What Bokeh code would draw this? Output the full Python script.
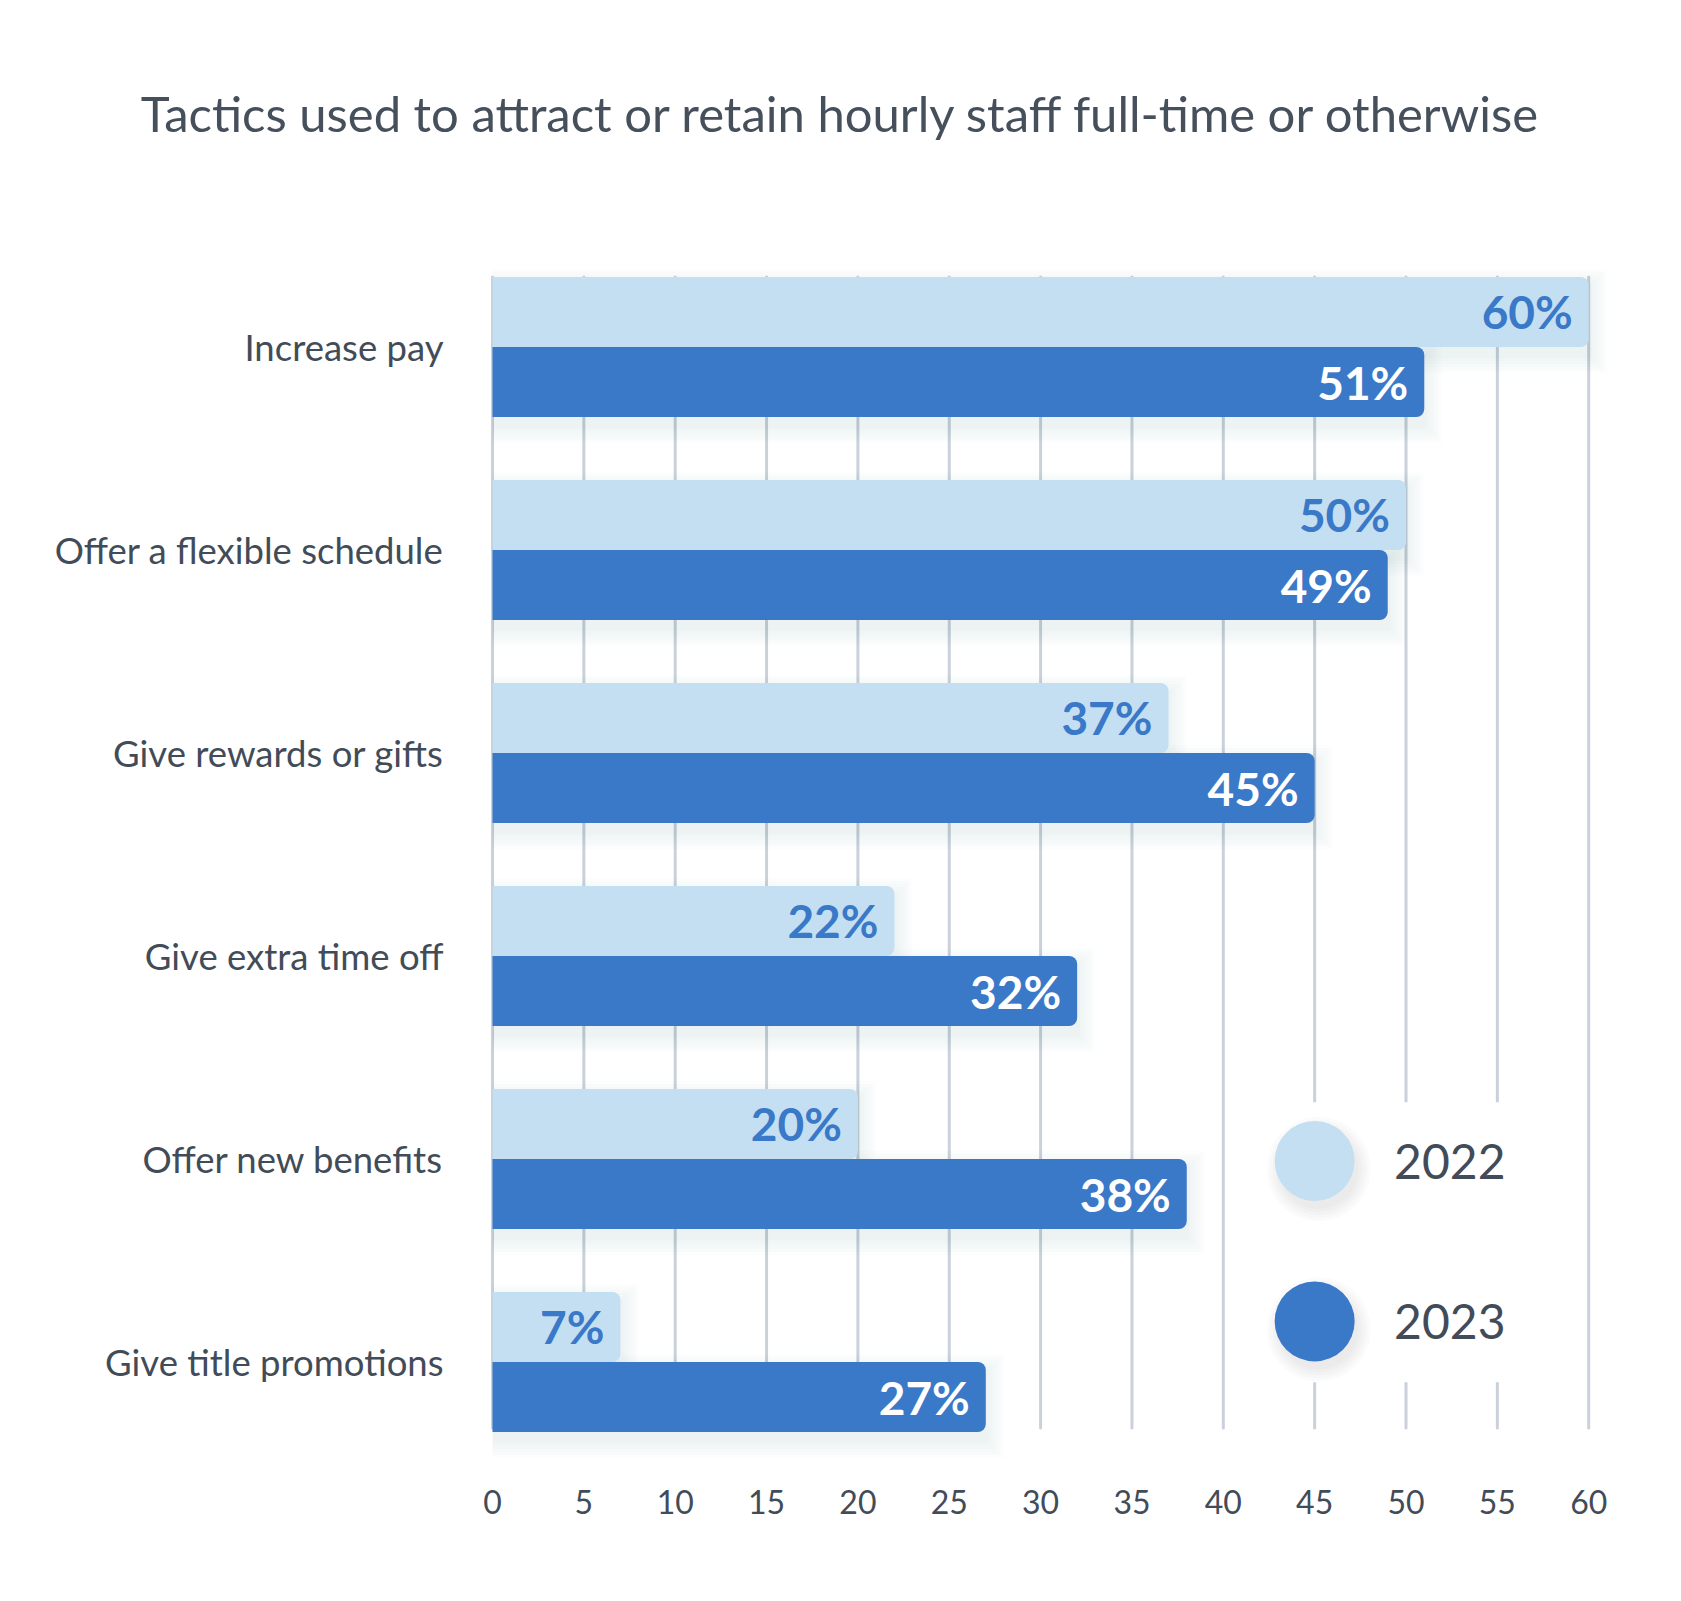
from bokeh.plotting import figure
from bokeh.models import Range1d, FixedTicker, LinearAxis, Label, ColumnDataSource
from bokeh.core.properties import value
from bokeh.embed import file_html
from bokeh.resources import INLINE

# ---------------- data ----------------
categories = [
    "Increase pay",
    "Offer a flexible schedule",
    "Give rewards or gifts",
    "Give extra time off",
    "Offer new benefits",
    "Give title promotions",
]
values_2022 = [60, 50, 37, 22, 20, 7]
values_2023 = [51, 49, 45, 32, 38, 27]
series_names = ["2022", "2023"]
x_ticks = [0, 5, 10, 15, 20, 25, 30, 35, 40, 45, 50, 55, 60]
title_text = "Tactics used to attract or retain hourly staff full-time or otherwise"

# ---------------- style / layout ----------------
LIGHT = "#c4dff2"
DARK = "#3a78c8"
TEXT = "#424c58"
GRID = "#cad1da"
FONT = "Lato"

FRAME_W, FRAME_H = 1672, 1463
X0_PX = 492                 # pixel position of x = 0
px_x = 1 / 18.27            # data units per pixel (x)
px_y = 1 / 203              # data units per pixel (y)

n = len(categories)
ypos = [n - 1 - i for i in range(n)]
bar_h = 0.345
off = bar_h / 2

src22 = ColumnDataSource(dict(y=[v + off for v in ypos], right=values_2022,
                              label=[f"{v}%" for v in values_2022]))
src23 = ColumnDataSource(dict(y=[v - off for v in ypos], right=values_2023,
                              label=[f"{v}%" for v in values_2023]))

x_start = -X0_PX * px_x
y_start = -0.5
p = figure(frame_width=FRAME_W, frame_height=FRAME_H,
           x_range=Range1d(x_start, x_start + FRAME_W * px_x),
           y_range=Range1d(y_start, y_start + FRAME_H * px_y),
           x_axis_type=None, y_axis_type=None,
           min_border_left=0, min_border_right=0,
           min_border_top=0, min_border_bottom=130,
           output_backend="svg", toolbar_location=None)
p.outline_line_color = None
p.background_fill_color = "white"
p.border_fill_color = "white"

# x axis
xaxis = LinearAxis(ticker=FixedTicker(ticks=x_ticks))
xaxis.axis_line_color = None
xaxis.major_tick_line_color = None
xaxis.minor_tick_line_color = None
xaxis.major_label_text_font = FONT
xaxis.major_label_text_font_size = "32px"
xaxis.major_label_text_color = TEXT
xaxis.major_label_standoff = 20
p.add_layout(xaxis, "below")

# category labels
p.text(x=[0] * n, y=ypos, text=categories, x_offset=-49,
       text_align="right", text_baseline="middle", text_font=value(FONT),
       text_font_size="36.5px", text_color=TEXT)

# grid lines
p.segment(x0=x_ticks, x1=x_ticks,
          y0=[-bar_h + 0.02] * len(x_ticks), y1=[ypos[0] + bar_h] * len(x_ticks),
          line_color=GRID, line_width=3, line_cap="round")

# legend background (breaks the grid lines)
leg_x = 45
leg_y = [0.99, 0.2]
p.quad(left=[41.3], right=[58.5], bottom=[-0.1], top=[1.28],
       fill_color="white", line_color=None)

# soft shadows (offset down/right)
for k in range(6):
    grow = 2 + 3 * k
    for src, vals in ((src22, values_2022), (src23, values_2023)):
        ys = src.data["y"]
        p.hbar(y=[yy - 9 * px_y for yy in ys], left=0,
               right=[v + (grow + 1) * px_x for v in vals],
               height=bar_h + 2 * grow * px_y,
               fill_color="#2a3645", fill_alpha=0.013, line_color=None)
for k in range(5):
    p.scatter(x=[leg_x + 4 * px_x] * 2, y=[v - 8 * px_y for v in leg_y],
              size=80 + 6 * k, fill_color="#2a3645", fill_alpha=0.018, line_color=None)

# bars
p.hbar(y="y", left=0, right="right", height=bar_h, source=src22,
       fill_color=LIGHT, line_color=None, border_radius=(0, 8, 8, 0))
p.hbar(y="y", left=0, right="right", height=bar_h, source=src23,
       fill_color=DARK, line_color=None, border_radius=(0, 8, 8, 0))

# value labels
p.text(x="right", y="y", text="label", source=src22, x_offset=-16,
       text_align="right", text_baseline="middle", text_font=value(FONT),
       text_font_size="46px", text_font_style="bold", text_color=DARK)
p.text(x="right", y="y", text="label", source=src23, x_offset=-16,
       text_align="right", text_baseline="middle", text_font=value(FONT),
       text_font_size="46px", text_font_style="bold", text_color="white")

# legend
p.scatter(x=[leg_x] * 2, y=leg_y, size=80, fill_color=[LIGHT, DARK], line_color=None)
p.text(x=[leg_x + 4.35] * 2, y=leg_y, text=series_names, text_align="left",
       text_baseline="middle", text_font=value(FONT), text_font_size="48px",
       text_color=TEXT)

# title
p.add_layout(Label(x=(841 - X0_PX) * px_x, y=y_start + (FRAME_H - 112) * px_y,
                   text=title_text, text_align="center", text_baseline="middle",
                   text_font=FONT, text_font_size="49px", text_color="#46505c"))

open("out.html", "w").write(file_html(p, INLINE))
